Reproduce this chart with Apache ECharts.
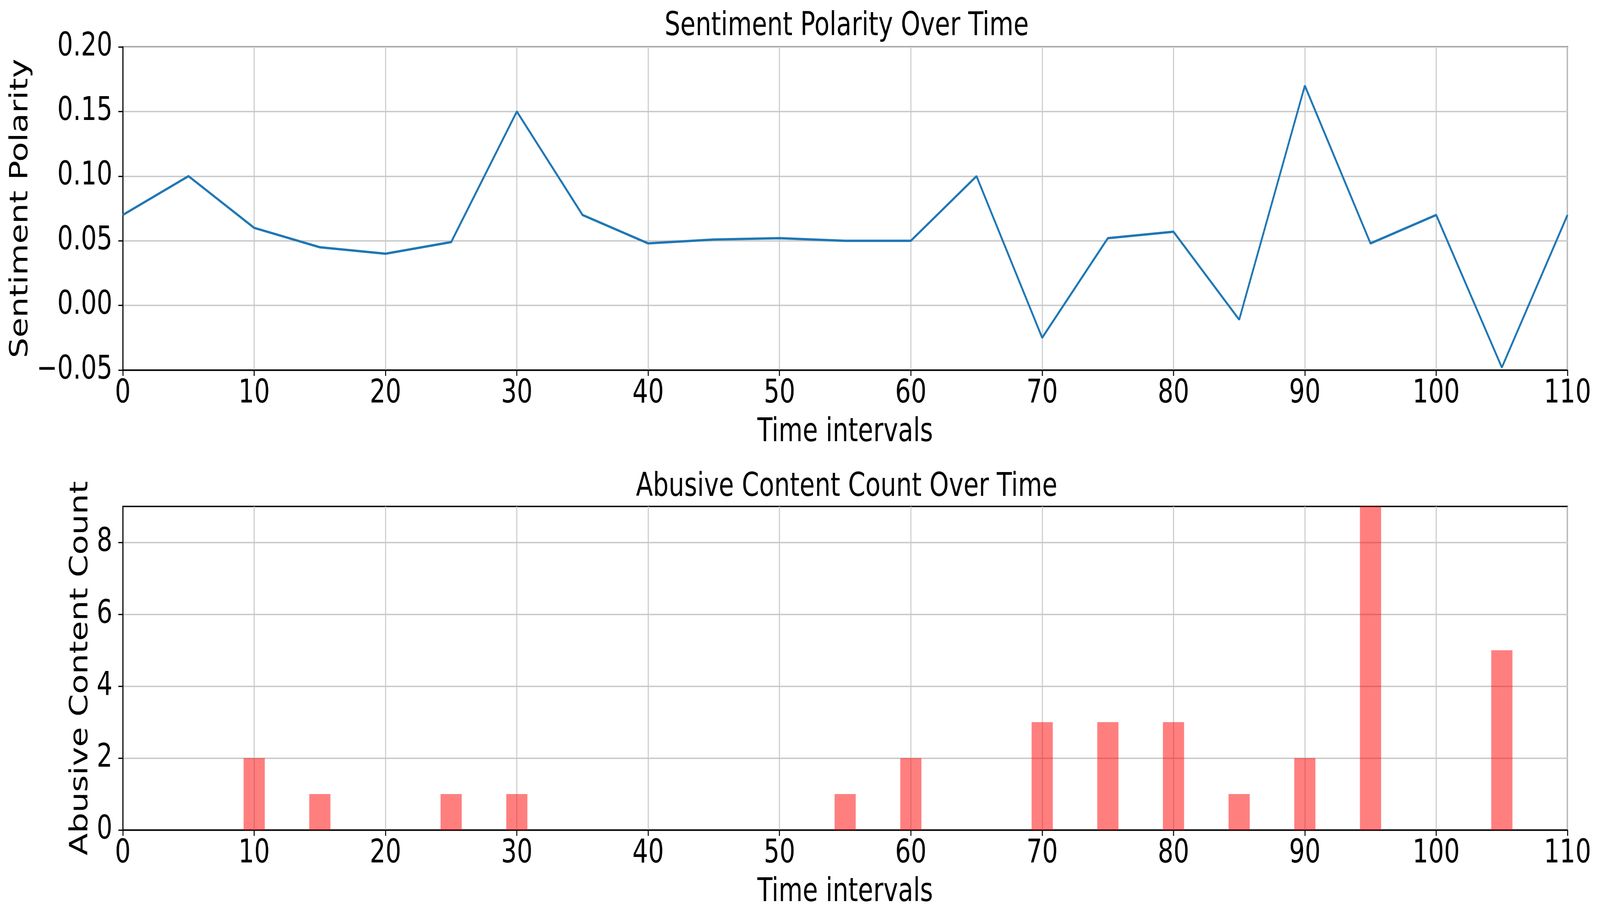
<!DOCTYPE html>
<html>
<head>
<meta charset="utf-8">
<script src="https://cdn.jsdelivr.net/npm/echarts@6/dist/echarts.min.js"></script>
<style>
html,body{margin:0;padding:0;background:#fff;overflow:hidden;}
#chart{width:5367px;height:2362px;transform-origin:0 0;}
</style>
</head>
<body>
<div id="chart"></div>
<script>
// ---- data ----
const timeIntervals = [0,5,10,15,20,25,30,35,40,45,50,55,60,65,70,75,80,85,90,95,100,105,110];
const sentimentPolarity = [0.07,0.10,0.06,0.045,0.04,0.049,0.15,0.07,0.048,0.051,0.052,0.05,0.05,0.10,-0.025,0.052,0.057,-0.011,0.17,0.048,0.07,-0.048,0.07];
const abusiveCounts = [0,0,2,1,0,1,1,0,0,0,0,1,2,0,3,3,3,1,2,9,0,5,0];
const countTicks = [0,2,4,6,8];
const titles = ['Sentiment Polarity Over Time','Abusive Content Count Over Time'];

// The window may be narrower than the 5367px design width: squeeze horizontally to fit.
const W = 5367, H = 2362;
const el = document.getElementById('chart');
const kx = Math.min(1, (window.innerWidth || W) / W);
if (kx < 1) el.style.transform = 'scaleX(' + kx + ')';

const FONT = 'DejaVu Sans';
const FS = 83;
const chart = echarts.init(el, null, {renderer:'canvas', width:W, height:H});

const gridL = 412, gridR = 109, plotW = W - gridL - gridR;
const centerX = gridL + plotW/2;
const AX = '#000', GRIDC = '#c8c8c8', LW = 3.3;

function xAxisCfg(idx){
  return {
    type:'value', gridIndex:idx, min:0, max:110, interval:10,
    name:'Time intervals', nameLocation:'middle', nameGap:119,
    nameTextStyle:{fontFamily:FONT,fontSize:FS,color:'#000'},
    axisLine:{show:true,onZero:false,lineStyle:{color:AX,width:LW}},
    axisTick:{show:true,inside:false,length:15,lineStyle:{color:AX,width:LW}},
    axisLabel:{fontFamily:FONT,fontSize:FS,color:'#000',margin:20},
    splitLine:{show:true,lineStyle:{color:GRIDC,width:LW}}
  };
}

const lineData = timeIntervals.map((t,i)=>[t,sentimentPolarity[i]]);
const barData = timeIntervals.map((t,i)=>[t,abusiveCounts[i]]);

const option = {
  backgroundColor:'#fff',
  animation:false,
  title:[
    {text:titles[0], left:centerX, top:22, textAlign:'center',
     textStyle:{fontFamily:FONT,fontSize:FS,fontWeight:'normal',color:'#000'}},
    {text:titles[1], left:centerX, top:1201, textAlign:'center',
     textStyle:{fontFamily:FONT,fontSize:FS,fontWeight:'normal',color:'#000'}}
  ],
  grid:[
    {left:gridL, width:plotW, top:120, height:827, show:true, borderColor:AX, borderWidth:LW, backgroundColor:'transparent'},
    {left:gridL, width:plotW, top:1296, height:828, show:true, borderColor:AX, borderWidth:LW, backgroundColor:'transparent'}
  ],
  xAxis:[xAxisCfg(0), xAxisCfg(1)],
  yAxis:[
    {type:'value', gridIndex:0, min:-0.05, max:0.2, interval:0.05,
     name:'Sentiment Polarity', nameLocation:'middle', nameGap:300, nameRotate:90,
     nameTextStyle:{fontFamily:FONT,fontSize:FS,color:'#000'},
     axisLine:{show:true,onZero:false,lineStyle:{color:AX,width:LW}},
     axisTick:{show:true,length:15,lineStyle:{color:AX,width:LW}},
     axisLabel:{fontFamily:FONT,fontSize:FS,color:'#000',margin:35,
       formatter:v=>{const r=Math.round(v*100)/100; return (r<0?'\u2212':'')+Math.abs(r).toFixed(2);}},
     splitLine:{show:true,lineStyle:{color:GRIDC,width:LW}}
    },
    {type:'value', gridIndex:1, min:0, max:9, interval:1,
     name:'Abusive Content Count', nameLocation:'middle', nameGap:99, nameRotate:90,
     nameTextStyle:{fontFamily:FONT,fontSize:FS,color:'#000'},
     axisLine:{show:true,onZero:false,lineStyle:{color:AX,width:LW}},
     axisTick:{show:true,length:15,customValues:countTicks,lineStyle:{color:AX,width:LW}},
     axisLabel:{fontFamily:FONT,fontSize:FS,color:'#000',margin:35,customValues:countTicks},
     splitLine:{show:true,lineStyle:{color:GRIDC,width:LW}}
    }
  ],
  series:[
    {type:'line', xAxisIndex:0, yAxisIndex:0, data:lineData, showSymbol:false, symbol:'none',
     lineStyle:{color:'#1f77b4',width:6}, clip:true, z:3},
    {type:'bar', xAxisIndex:1, yAxisIndex:1, data:barData, barWidth:71,
     itemStyle:{color:'rgba(255,0,0,0.5)'}, z:3}
  ]
};
chart.setOption(option);
</script>
</body>
</html>
